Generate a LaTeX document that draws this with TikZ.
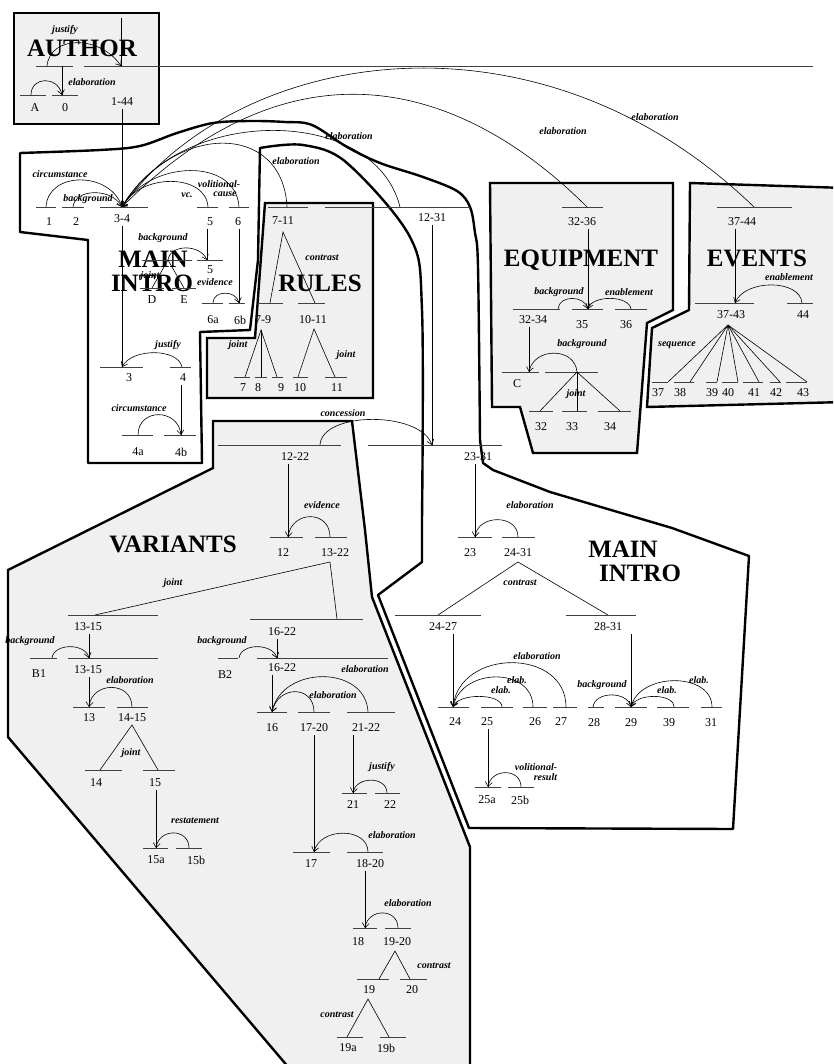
\documentclass[tikz,border=0pt]{standalone}
\usepackage{fontspec}
\setmainfont{Liberation Serif}
\usetikzlibrary{arrows.meta}
\tikzset{
  num/.style={font=\fontsize{12}{12}\selectfont, inner sep=0pt},
  lab/.style={font=\fontsize{10}{10}\selectfont\bfseries\itshape, inner sep=0pt},
  big/.style={font=\fontsize{25}{25}\selectfont\bfseries, inner sep=0pt, anchor=base},
  spanl/.style={draw=black!75, line width=0.8pt},
  rel/.style={draw=black, line width=0.6pt},
  vline/.style={rel, shorten <=3pt},
  arr/.style={rel, -{Straight Barb[length=4.5pt,width=7pt]}},
  region/.style={draw=black, line width=2.4pt, fill=black!6, line join=miter},
  regionw/.style={draw=black, line width=2.4pt, fill=white, line join=round},
}
\begin{document}
\begin{tikzpicture}[x=1pt,y=-1pt]
\useasboundingbox (0,0) rectangle (833,1064);
\clip (0,0) rectangle (833,1064);

% ---------------- regions ----------------
\draw[regionw] plot[smooth, tension=0.55] coordinates {(20,153) (100,150) (140,146) (177,133) (213,123) (250,121) (285,122) (312,125) (347,147) (380,163) (423,177) (457,191) (470,207) (475,233) (478,267) (480,440)}
  -- (483,463) -- (493,470) -- (550,492) -- (672,528) -- (749,556) -- (733,829) -- (469,828) -- (378,595) -- (422,562)
  -- plot[smooth, tension=0.55] coordinates {(422,520) (422,310) (410,237) (347,163) (303,145) (260,148)}
  -- (258,260) -- (250,330) -- (200,332) -- (202,463) -- (88,463) -- (88,240) -- (20,232) -- cycle;
\draw[region] (14,13) rectangle (159,124);
\draw[region] (265,203) -- (373,203) -- (373,398) -- (207,398) -- (207,338) -- (255,338) -- cycle;
\draw[region] (490,183) -- (673,183) -- (673,310) -- (647,323) -- (637,453) -- (533,453) -- (520,407) -- (492,407) -- cycle;
\draw[region] (690,183) -- (845,188) -- (845,402) -- (647,407) -- (652,328) -- (689,310) -- cycle;
\draw[region] (213,421) -- (352,421) -- (365,530) -- (372,597) -- (470,847) -- (470,1075) -- (295,1075) -- (8,737) -- (8,570) -- (213,468) -- cycle;

% ---------------- big titles ----------------
\node[big] (tAuthor) at (82,57) {AUTHOR};
\node[big] (tMain1) at (153,268) {MAIN};
\node[big] (tIntro1) at (152,291) {INTRO};
\node[big] (tRules) at (320,291) {RULES};
\node[big] (tEquip) at (581,267) {EQUIPMENT};
\node[big] (tEvents) at (757,267) {EVENTS};
\node[big] (tVar) at (173,552) {VARIANTS};
\node[big] (tMain2) at (623,557) {MAIN};
\node[big] (tIntro2) at (640,581) {INTRO};

% ---------------- AUTHOR ----------------
\coordinate (rootT) at (121,18);
\coordinate (n144) at (121,66);
\draw[rel] (rootT) -- (n144);
\draw[spanl] (36,66) -- (73,66);
\draw[spanl] (84,66) -- (813,66);
\coordinate (sA0) at (47,66);
\draw[arr] (sA0) .. controls (50,35) and (100,35) .. (n144);
\node[lab] (lJust0) at (65,30) {justify};
\coordinate (tA0) at (62,66);
\coordinate (n0) at (62,95);
\draw[rel] (tA0) -- (n0);
\draw[spanl] (20,95) -- (46,95);
\draw[spanl] (52,95) -- (78,95);
\coordinate (sA) at (31,95);
\draw[arr] (sA) .. controls (31,76) and (58,76) .. (n0);
\node[lab] (lElab0) at (92,82) {elaboration};
\node[num] (lA) at (35,108) {A};
\node[num] (l0) at (65,108) {0};
\node[num] (l144) at (122,102) {1-44};
\coordinate (n34) at (122,207);
\draw[vline] (l144.south -| n34) -- (n34);

% ---------------- top row ----------------
\draw[spanl] (36,207) -- (56,207);
\draw[spanl] (62,207) -- (84,207);
\draw[spanl] (100,207) -- (148,207);
\draw[spanl] (197,207) -- (218,207);
\draw[spanl] (229,207) -- (249,207);
\draw[spanl] (268,207) -- (308,207);
\draw[spanl] (325,207) -- (470,207);
\draw[spanl] (562,207) -- (603,207);
\draw[spanl] (717,207) -- (792,207);
\coordinate (s1) at (46,207);
\coordinate (s2) at (73,207);
\coordinate (s5) at (208,207);
\coordinate (s6) at (239,207);
\coordinate (s711) at (287,207);
\coordinate (s1231) at (400,207);
\coordinate (s3236) at (587,207);
\coordinate (s3744) at (754,207);
\draw[arr] (s1) .. controls (48,171) and (110,171) .. (n34);
\draw[arr] (s2) .. controls (75,188) and (112,188) .. (n34);
\draw[arr] (s5) .. controls (206,173) and (140,173) .. (n34);
\draw[arr] (s6) .. controls (236,157) and (150,160) .. (n34);
\draw[arr] (s711) .. controls (283,122) and (175,122) .. (n34);
\draw[arr] (s1231) .. controls (375,105) and (180,105) .. (n34);
\draw[arr] (s3236) .. controls (488,108) and (316,13) .. (n34);
\draw[arr] (s3744) .. controls (540,0) and (240,45) .. (n34);
\node[lab] at (60,174) {circumstance};
\node[lab] at (88,199) {background};
\node[lab] at (187,195) {vc.};
\node[lab] at (219,184) {volitional-};
\node[lab] at (225,194) {cause};
\node[lab] at (296,161) {elaboration};
\node[lab] at (349,136) {elaboration};
\node[lab] at (563,131) {elaboration};
\node[lab] at (655,117) {elaboration};
\node[num] (l1) at (49,222) {1};
\node[num] (l2) at (76,222) {2};
\node[num] (l34) at (122,219) {3-4};
\node[num] (l5) at (210,222) {5};
\node[num] (l6) at (238,222) {6};
\node[num] (l711) at (283,221) {7-11};
\node[num] (l1231) at (432,218) {12-31};
\node[num] (l3236) at (582,222) {32-36};
\node[num] (l3744) at (742,222) {37-44};

% ---------------- MAIN INTRO (left) ----------------
\coordinate (n3) at (122,367);
\draw[vline] (l34.south -| n3) -- (n3);
\coordinate (n5b) at (207,260);
\draw[vline] (l5.south -| n5b) -- (n5b);
\draw[spanl] (197,260) -- (223,260);
\draw[spanl] (142,260) -- (192,260);
\coordinate (sDE) at (168,260);
\draw[arr] (sDE) .. controls (170,244) and (200,244) .. (n5b);
\node[lab] at (163,238) {background};
\node[num] (l5b) at (210,270) {5};
\coordinate (tD) at (152,288);
\coordinate (tE) at (184,288);
\draw[rel] (tD) -- (sDE) -- (tE);
\draw[spanl] (140,288) -- (164,288);
\draw[spanl] (172,288) -- (196,288);
\node[lab] at (150,276) {joint};
\node[num] (lD) at (152,300) {D};
\node[num] (lE) at (184,300) {E};
\coordinate (n6b) at (239,303);
\draw[vline] (l6.south -| n6b) -- (n6b);
\coordinate (s6a) at (213,303);
\draw[arr] (s6a) .. controls (213,290) and (236,290) .. (n6b);
\draw[spanl] (202,303) -- (223,303);
\draw[spanl] (229,303) -- (245,303);
\node[lab] at (215,282) {evidence};
\node[num] (l6a) at (213,320) {6a};
\node[num] (l6b) at (240,320) {6b};
\coordinate (s4) at (182,367);
\draw[arr] (s4) .. controls (178,348) and (132,348) .. (n3);
\draw[spanl] (100,367) -- (143,367);
\draw[spanl] (170,367) -- (191,367);
\node[lab] at (168,345) {justify};
\node[num] (l3) at (129,378) {3};
\node[num] (l4) at (183,378) {4};
\coordinate (n4b) at (181,435);
\draw[vline] (l4.south -| n4b) -- (n4b);
\coordinate (s4a) at (138,435);
\draw[arr] (s4a) .. controls (138,408) and (178,408) .. (n4b);
\draw[spanl] (122,435) -- (153,435);
\draw[spanl] (164,435) -- (196,435);
\node[lab] at (139,408) {circumstance};
\node[num] (l4a) at (138,452) {4a};
\node[num] (l4b) at (181,452) {4b};

% ---------------- RULES ----------------
\coordinate (a711) at (283,232);
\coordinate (t79) at (270,303);
\coordinate (t1011) at (315,303);
\draw[rel] (t79) -- (a711) -- (t1011);
\draw[spanl] (258,303) -- (283,303);
\draw[spanl] (298,303) -- (325,303);
\node[lab] at (322,258) {contrast};
\node[num] (l79) at (263,320) {7-9};
\node[num] (l1011) at (313,320) {10-11};
\coordinate (a79) at (261,330);
\coordinate (t7) at (245,377);
\coordinate (t8) at (261,377);
\coordinate (t9) at (277,377);
\draw[rel] (t7) -- (a79) -- (t9);
\draw[rel] (a79) -- (t8);
\draw[spanl] (234,377) -- (250,377);
\draw[spanl] (255,377) -- (267,377);
\draw[spanl] (272,377) -- (283,377);
\node[lab] at (238,345) {joint};
\node[num] (l7) at (243,388) {7};
\node[num] (l8) at (258,388) {8};
\node[num] (l9) at (281,388) {9};
\coordinate (a1011) at (314,329);
\coordinate (t10) at (298,377);
\coordinate (t11) at (335,377);
\draw[rel] (t10) -- (a1011) -- (t11);
\draw[spanl] (293,377) -- (308,377);
\draw[spanl] (325,377) -- (347,377);
\node[lab] at (346,355) {joint};
\node[num] (l10) at (300,388) {10};
\node[num] (l11) at (337,388) {11};

% ---------------- 12-31 ----------------
\coordinate (n1231) at (432,445);
\draw[vline] (l1231) -- (n1231);
\draw[spanl] (218,445) -- (341,445);
\draw[spanl] (368,445) -- (502,445);
\coordinate (s1222) at (320,445);
\draw[arr] (s1222) .. controls (322,411) and (420,411) .. (n1231);
\node[lab] at (343,413) {concession};
\node[num] (l1222) at (295,457) {12-22};
\node[num] (l2331) at (478,457) {23-31};

% ---------------- VARIANTS ----------------
\coordinate (n12) at (288,537);
\draw[vline] (l1222.south -| n12) -- (n12);
\coordinate (s1322) at (330,537);
\draw[arr] (s1322) .. controls (330,510) and (292,510) .. (n12);
\draw[spanl] (270,537) -- (303,537);
\draw[spanl] (315,537) -- (347,537);
\node[lab] at (322,505) {evidence};
\node[num] (l12) at (283,553) {12};
\node[num] (l1322) at (335,553) {13-22};
\coordinate (a1322) at (330,562);
\coordinate (t1315) at (95,615);
\coordinate (t1622) at (337,619);
\draw[rel] (t1315) -- (a1322) -- (t1622);
\node[lab] at (173,583) {joint};
\draw[spanl] (68,615) -- (158,615);
\draw[spanl] (250,619) -- (363,619);
\node[num] (l1315) at (88,627) {13-15};
\node[num] (l1622) at (282,632) {16-22};
\coordinate (n1315b) at (89,658);
\draw[vline] (l1315.south -| n1315b) -- (n1315b);
\coordinate (sB1) at (52,658);
\draw[arr] (sB1) .. controls (54,643) and (85,643) .. (n1315b);
\draw[spanl] (30,658) -- (57,658);
\draw[spanl] (68,658) -- (158,658);
\node[lab] at (30,641) {background};
\node[num] (lB1) at (39,674) {B1};
\node[num] (l1315b) at (88,670) {13-15};
\coordinate (n13) at (89,707);
\draw[vline] (l1315b.south -| n13) -- (n13);
\coordinate (s1415) at (132,707);
\draw[arr] (s1415) .. controls (132,681) and (92,681) .. (n13);
\draw[spanl] (73,707) -- (105,707);
\draw[spanl] (117,707) -- (148,707);
\node[lab] at (130,680) {elaboration};
\node[num] (l13) at (89,718) {13};
\node[num] (l1415) at (132,718) {14-15};
\coordinate (a1415) at (132,725);
\coordinate (t14) at (100,770);
\coordinate (t15) at (158,770);
\draw[rel] (t14) -- (a1415) -- (t15);
\node[lab] at (131,753) {joint};
\draw[spanl] (85,770) -- (122,770);
\draw[spanl] (143,770) -- (175,770);
\node[num] (l14) at (96,783) {14};
\node[num] (l15) at (155,783) {15};
\coordinate (n15a) at (156,848);
\draw[vline] (l15.south -| n15a) -- (n15a);
\coordinate (s15b) at (189,848);
\draw[arr] (s15b) .. controls (189,828) and (159,828) .. (n15a);
\draw[spanl] (143,848) -- (168,848);
\draw[spanl] (176,848) -- (202,848);
\node[lab] at (195,821) {restatement};
\node[num] (l15a) at (156,860) {15a};
\node[num] (l15b) at (196,860) {15b};

\coordinate (n1622b) at (277,658);
\draw[vline] (l1622.south -| n1622b) -- (n1622b);
\coordinate (sB2) at (239,658);
\draw[arr] (sB2) .. controls (241,643) and (272,643) .. (n1622b);
\draw[spanl] (218,658) -- (238,658);
\draw[spanl] (257,658) -- (388,658);
\node[lab] at (222,641) {background};
\node[num] (lB2) at (225,675) {B2};
\node[num] (l1622b) at (282,668) {16-22};
\coordinate (n16) at (272,712);
\draw[vline] (l1622b.south -| n16) -- (n16);
\coordinate (s2122) at (368,712);
\draw[arr] (s2122) .. controls (366,665) and (282,665) .. (n16);
\coordinate (s1720) at (314,712);
\draw[arr] (s1720) .. controls (314,685) and (278,685) .. (n16);
\draw[spanl] (257,712) -- (287,712);
\draw[spanl] (298,712) -- (330,712);
\draw[spanl] (347,712) -- (395,712);
\node[lab] at (365,669) {elaboration};
\node[lab] at (333,695) {elaboration};
\node[num] (l16) at (272,728) {16};
\node[num] (l1720) at (314,728) {17-20};
\node[num] (l2122) at (366,728) {21-22};
\coordinate (n21) at (353,793);
\draw[vline] (l2122.south -| n21) -- (n21);
\coordinate (s22) at (387,793);
\draw[arr] (s22) .. controls (387,776) and (356,776) .. (n21);
\draw[spanl] (342,793) -- (367,793);
\draw[spanl] (375,793) -- (400,793);
\node[lab] at (382,767) {justify};
\node[num] (l21) at (353,805) {21};
\node[num] (l22) at (390,805) {22};
\coordinate (n17) at (314,852);
\draw[vline] (l1720) -- (n17);
\coordinate (s1820) at (368,852);
\draw[arr] (s1820) .. controls (368,827) and (320,827) .. (n17);
\draw[spanl] (293,852) -- (330,852);
\draw[spanl] (347,852) -- (383,852);
\node[lab] at (392,835) {elaboration};
\node[num] (l17) at (311,864) {17};
\node[num] (l1820) at (370,864) {18-20};
\coordinate (n18) at (365,928);
\draw[vline] (l1820.south -| n18) -- (n18);
\coordinate (s1920) at (398,928);
\draw[arr] (s1920) .. controls (398,908) and (368,908) .. (n18);
\draw[spanl] (353,928) -- (377,928);
\draw[spanl] (385,928) -- (411,928);
\node[lab] at (408,903) {elaboration};
\node[num] (l18) at (358,942) {18};
\node[num] (l1920) at (397,942) {19-20};
\coordinate (a1920) at (395,951);
\coordinate (t19) at (379,979);
\coordinate (t20) at (410,979);
\draw[rel] (t19) -- (a1920) -- (t20);
\draw[spanl] (357,979) -- (389,979);
\draw[spanl] (400,979) -- (427,979);
\node[lab] at (434,966) {contrast};
\node[num] (l19) at (369,990) {19};
\node[num] (l20) at (412,990) {20};
\coordinate (a19) at (368,999);
\coordinate (t19a) at (347,1037);
\coordinate (t19b) at (389,1037);
\draw[rel] (t19a) -- (a19) -- (t19b);
\draw[spanl] (337,1037) -- (363,1037);
\draw[spanl] (380,1037) -- (406,1037);
\node[lab] at (337,1015) {contrast};
\node[num] (l19a) at (348,1048) {19a};
\node[num] (l19b) at (386,1048) {19b};

% ---------------- MAIN INTRO (right) ----------------
\coordinate (n23) at (475,537);
\draw[vline] (l2331.south -| n23) -- (n23);
\coordinate (s2431) at (518,537);
\draw[arr] (s2431) .. controls (518,514) and (478,514) .. (n23);
\draw[spanl] (458,537) -- (492,537);
\draw[spanl] (502,537) -- (535,537);
\node[lab] at (530,505) {elaboration};
\node[num] (l23) at (470,553) {23};
\node[num] (l2431) at (518,553) {24-31};
\coordinate (a2431) at (518,562);
\coordinate (t2427) at (438,615);
\coordinate (t2831) at (608,615);
\draw[rel] (t2427) -- (a2431) -- (t2831);
\node[lab] at (520,583) {contrast};
\draw[spanl] (395,615) -- (481,615);
\draw[spanl] (566,615) -- (636,615);
\node[num] (l2427) at (443,627) {24-27};
\node[num] (l2831) at (608,627) {28-31};
\coordinate (n24) at (453,707);
\draw[vline] (l2427.south -| n24) -- (n24);
\coordinate (s27) at (566,707);
\coordinate (s26) at (533,707);
\coordinate (s25) at (502,707);
\draw[arr] (s27) .. controls (566,648) and (460,648) .. (n24);
\draw[arr] (s26) .. controls (533,667) and (462,667) .. (n24);
\draw[arr] (s25) .. controls (502,693) and (458,693) .. (n24);
\draw[spanl] (438,707) -- (469,707);
\draw[spanl] (481,707) -- (513,707);
\draw[spanl] (523,707) -- (547,707);
\draw[spanl] (553,707) -- (577,707);
\node[lab] at (537,656) {elaboration};
\node[lab] at (517,680) {elab.};
\node[lab] at (501,690) {elab.};
\node[num] (l24) at (455,722) {24};
\node[num] (l25) at (487,722) {25};
\node[num] (l26) at (535,722) {26};
\node[num] (l27) at (561,722) {27};
\coordinate (n25a) at (488,787);
\draw[vline] (l25.south -| n25a) -- (n25a);
\coordinate (s25b) at (521,787);
\draw[arr] (s25b) .. controls (521,768) and (491,768) .. (n25a);
\draw[spanl] (475,787) -- (501,787);
\draw[spanl] (508,787) -- (534,787);
\node[lab, align=right] at (536,772) {volitional-\\result};
\node[num] (l25a) at (487,800) {25a};
\node[num] (l25b) at (520,800) {25b};
\coordinate (n29) at (631,707);
\draw[vline] (l2831.south -| n29) -- (n29);
\coordinate (s28) at (593,707);
\coordinate (s39) at (674,707);
\coordinate (s31) at (712,707);
\draw[arr] (s28) .. controls (595,691) and (627,691) .. (n29);
\draw[arr] (s39) .. controls (674,693) and (636,693) .. (n29);
\draw[arr] (s31) .. controls (712,672) and (640,672) .. (n29);
\draw[spanl] (588,707) -- (604,707);
\draw[spanl] (615,707) -- (647,707);
\draw[spanl] (657,707) -- (689,707);
\draw[spanl] (701,707) -- (722,707);
\node[lab] at (602,685) {background};
\node[lab] at (667,690) {elab.};
\node[lab] at (699,680) {elab.};
\node[num] (l28) at (594,723) {28};
\node[num] (l29) at (631,723) {29};
\node[num] (l39) at (669,723) {39};
\node[num] (l31) at (711,723) {31};

% ---------------- EQUIPMENT ----------------
\coordinate (n35) at (588,309);
\draw[vline] (l3236.south -| n35) -- (n35);
\coordinate (s3234) at (558,309);
\coordinate (s36) at (631,309);
\draw[arr] (s3234) .. controls (559,295) and (584,295) .. (n35);
\draw[arr] (s36) .. controls (629,295) and (592,295) .. (n35);
\draw[spanl] (513,309) -- (560,309);
\draw[spanl] (572,309) -- (603,309);
\draw[spanl] (615,309) -- (647,309);
\node[lab] at (559,292) {background};
\node[lab] at (629,292) {enablement};
\node[num] (l3234) at (533,320) {32-34};
\node[num] (l35) at (582,325) {35};
\node[num] (l36) at (626,325) {36};
\coordinate (nC) at (529,372);
\draw[vline] (l3234.south -| nC) -- (nC);
\coordinate (a3234) at (577,372);
\draw[arr] (a3234) .. controls (575,347) and (534,347) .. (nC);
\draw[spanl] (502,372) -- (539,372);
\draw[spanl] (545,372) -- (598,372);
\node[lab] at (582,344) {background};
\node[num] (lC) at (517,384) {C};
\coordinate (t32) at (540,411);
\coordinate (t33) at (577,411);
\coordinate (t34) at (620,411);
\draw[rel] (t32) -- (a3234) -- (t34);
\draw[rel] (a3234) -- (t33);
\draw[spanl] (529,411) -- (553,411);
\draw[spanl] (562,411) -- (587,411);
\draw[spanl] (598,411) -- (631,411);
\node[lab] at (576,394) {joint};
\node[num] (l32) at (541,427) {32};
\node[num] (l33) at (572,427) {33};
\node[num] (l34b) at (610,427) {34};

% ---------------- EVENTS ----------------
\coordinate (n3743) at (735,303);
\draw[vline] (l3744.south -| n3743) -- (n3743);
\coordinate (s44) at (802,303);
\draw[arr] (s44) .. controls (800,279) and (745,279) .. (n3743);
\draw[spanl] (695,303) -- (754,303);
\draw[spanl] (787,303) -- (813,303);
\node[lab] at (789,277) {enablement};
\node[num] (l3743) at (731,315) {37-43};
\node[num] (l44) at (803,315) {44};
\coordinate (a3743) at (728,325);
\coordinate (t37) at (668,382);
\coordinate (t38) at (690,382);
\coordinate (t39) at (717,382);
\coordinate (t40) at (738,382);
\coordinate (t41) at (759,382);
\coordinate (t42) at (780,382);
\coordinate (t43) at (807,382);
\foreach \t in {t37,t38,t39,t40,t41,t42,t43} \draw[rel] (a3743) -- (\t);
\draw[spanl] (652,382) -- (668,382);
\draw[spanl] (674,382) -- (694,382);
\draw[spanl] (706,382) -- (717,382);
\draw[spanl] (722,382) -- (738,382);
\draw[spanl] (743,382) -- (763,382);
\draw[spanl] (770,382) -- (781,382);
\draw[spanl] (786,382) -- (807,382);
\node[lab] at (677,345) {sequence};
\node[num] (l37) at (658,393) {37};
\node[num] (l38) at (680,393) {38};
\node[num] (l39e) at (712,393) {39};
\node[num] (l40) at (728,393) {40};
\node[num] (l41) at (754,393) {41};
\node[num] (l42) at (776,393) {42};
\node[num] (l43) at (803,393) {43};
\end{tikzpicture}
\end{document}
